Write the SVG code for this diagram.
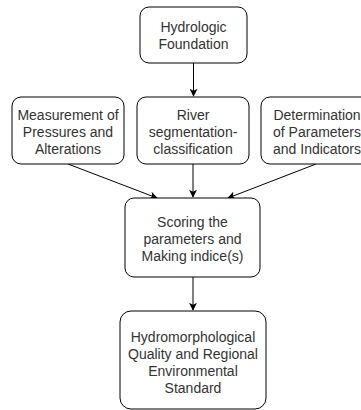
<svg xmlns="http://www.w3.org/2000/svg" width="361" height="410" viewBox="0 0 361 410">
<defs>
<marker id="ah" viewBox="0 0 10 10" refX="9" refY="5" markerWidth="8" markerHeight="8" markerUnits="userSpaceOnUse" orient="auto">
<path d="M0,0 L10,5 L0,10 L2.5,5 Z" fill="#000"/>
</marker>
</defs>
<style>
.box{fill:#fff;stroke:#000;stroke-width:1}
.t{font-family:"Liberation Sans",Arial,sans-serif;font-size:14px;fill:#333;text-anchor:middle}
.c{stroke:#000;stroke-width:1;fill:none;marker-end:url(#ah)}
</style>
<rect width="361" height="410" fill="#fff"/>
<g id="connectors">
<path class="c" d="M193.5,63 L193.5,96"/>
<path class="c" d="M68,164 L157,198"/>
<path class="c" d="M193,164 L193,197"/>
<path class="c" d="M316,164 L228,198"/>
<path class="c" d="M193,277 L193,310"/>
</g>
<g id="n1">
<rect class="box" x="140" y="7" width="107" height="56" rx="9"/>
<text class="t" x="193.5" y="31.5">Hydrologic</text>
<text class="t" x="193.5" y="48.5">Foundation</text>
</g>
<g id="n2">
<rect class="box" x="12" y="97" width="112" height="67" rx="9"/>
<text class="t" x="68" y="120">Measurement of</text>
<text class="t" x="68" y="137">Pressures and</text>
<text class="t" x="68" y="153.5">Alterations</text>
</g>
<g id="n3">
<rect class="box" x="137" y="97" width="112" height="67" rx="9"/>
<text class="t" x="193" y="120">River</text>
<text class="t" x="193" y="137">segmentation-</text>
<text class="t" x="193" y="153.5">classification</text>
</g>
<g id="n4">
<rect class="box" x="261" y="97" width="112" height="67" rx="9"/>
<text class="t" x="317" y="120">Determination</text>
<text class="t" x="317" y="137">of Parameters</text>
<text class="t" x="317" y="153.5">and Indicators</text>
</g>
<g id="n5">
<rect class="box" x="125" y="198" width="135" height="79" rx="9"/>
<text class="t" x="192.5" y="227">Scoring the</text>
<text class="t" x="192.5" y="244">parameters and</text>
<text class="t" x="192.5" y="261">Making indice(s)</text>
</g>
<g id="n6">
<rect class="box" x="120" y="311" width="146" height="98" rx="11"/>
<text class="t" x="193" y="341.5">Hydromorphological</text>
<text class="t" x="193" y="358.5">Quality and Regional</text>
<text class="t" x="193" y="375.5">Environmental</text>
<text class="t" x="193" y="392.5">Standard</text>
</g>
</svg>
